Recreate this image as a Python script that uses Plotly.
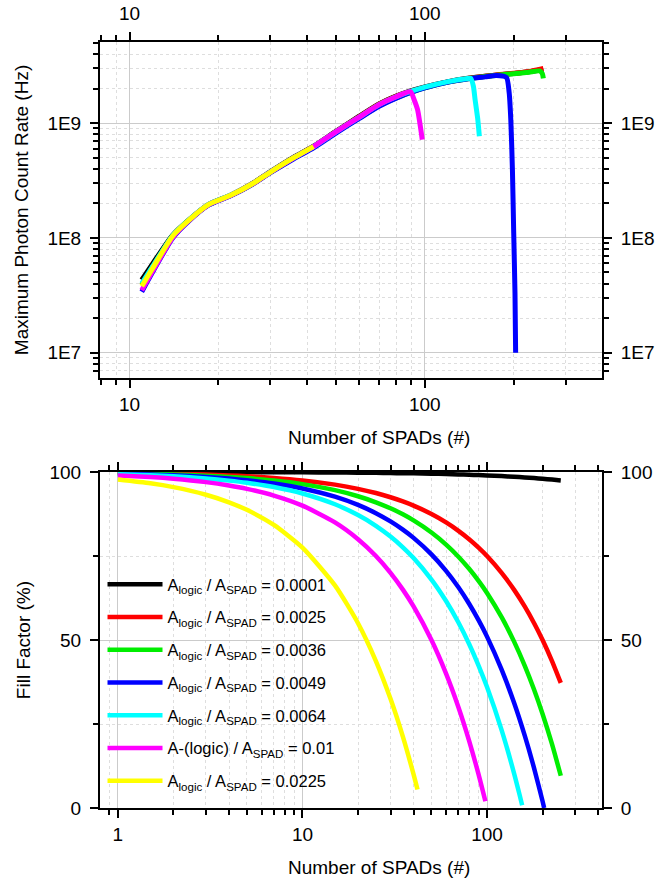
import plotly.graph_objects as go

FONT = "Liberation Sans, Arial, sans-serif"

# ---------------- data: top panel (max photon count rate vs number of SPADs) ----------------
names = ["A<sub>logic</sub> / A<sub>SPAD</sub> = 0.0001",
         "A<sub>logic</sub> / A<sub>SPAD</sub> = 0.0025",
         "A<sub>logic</sub> / A<sub>SPAD</sub> = 0.0036",
         "A<sub>logic</sub> / A<sub>SPAD</sub> = 0.0049",
         "A<sub>logic</sub> / A<sub>SPAD</sub> = 0.0064",
         "A-(logic) / A<sub>SPAD</sub> = 0.01",
         "A<sub>logic</sub> / A<sub>SPAD</sub> = 0.0225"]
colors = ["#000000", "#ff0000", "#00ee00", "#0000ff", "#00ffff", "#ff00ff", "#ffff00"]

rate_n_black = [11, 12, 14, 16, 18.5, 22, 26, 30, 36, 42, 50, 60, 70, 80, 90, 100, 120, 140, 160, 180, 200, 225, 252]
rate_black = [4.3e7, 6.0e7, 1.06e8, 1.46e8, 1.95e8, 2.36e8, 2.97e8, 3.78e8, 5.05e8, 6.3e8, 8.5e8, 1.15e9, 1.47e9, 1.72e9, 1.92e9, 2.07e9, 2.3e9, 2.46e9, 2.56e9, 2.64e9, 2.71e9, 2.8e9, 2.95e9]

rate_n_red = [11, 12, 14, 16, 18.5, 22, 26, 30, 36, 42, 50, 60, 70, 80, 90, 100, 120, 140, 160, 180, 200, 225, 252]
rate_red = [3.9e7, 5.6e7, 1.04e8, 1.45e8, 1.95e8, 2.35e8, 2.95e8, 3.75e8, 5.0e8, 6.25e8, 8.45e8, 1.14e9, 1.46e9, 1.71e9, 1.9e9, 2.05e9, 2.29e9, 2.45e9, 2.56e9, 2.65e9, 2.72e9, 2.82e9, 3.0e9]

rate_n_green = [11, 12, 14, 16, 18.5, 22, 26, 30, 36, 42, 50, 60, 70, 80, 90, 100, 120, 140, 160, 180, 200, 225, 245, 250, 252]
rate_green = [3.9e7, 5.6e7, 1.04e8, 1.45e8, 1.94e8, 2.34e8, 2.93e8, 3.72e8, 4.95e8, 6.2e8, 8.3e8, 1.11e9, 1.42e9, 1.66e9, 1.86e9, 2.03e9, 2.28e9, 2.44e9, 2.55e9, 2.63e9, 2.7e9, 2.78e9, 2.85e9, 2.7e9, 2.45e9]

rate_n_blue = [11, 12, 14, 16, 18.5, 22, 26, 30, 36, 42, 50, 60, 70, 80, 90, 100, 120, 140, 160, 175, 189, 193, 195.5, 198, 200, 202, 203]
rate_blue = [3.4e7, 5.1e7, 1.0e8, 1.43e8, 1.93e8, 2.33e8, 2.92e8, 3.7e8, 4.9e8, 6.1e8, 8.2e8, 1.1e9, 1.4e9, 1.65e9, 1.86e9, 2.03e9, 2.28e9, 2.43e9, 2.53e9, 2.6e9, 2.5e9, 1.85e9, 1.07e9, 3.9e8, 1.1e8, 3.3e7, 1.0e7]

rate_n_cyan = [11, 12, 14, 16, 18.5, 22, 26, 30, 36, 42, 50, 60, 70, 80, 90, 100, 120, 140, 143, 146, 148, 151, 153]
rate_cyan = [4.0e7, 5.7e7, 1.05e8, 1.46e8, 1.96e8, 2.36e8, 2.96e8, 3.76e8, 5.0e8, 6.25e8, 8.4e8, 1.13e9, 1.45e9, 1.7e9, 1.9e9, 2.06e9, 2.3e9, 2.45e9, 2.46e9, 2.1e9, 1.6e9, 1.1e9, 7.7e8]

rate_n_magenta = [11, 12, 14, 16, 18.5, 22, 26, 30, 36, 42, 50, 60, 70, 80, 89.5, 92, 94.5, 98]
rate_magenta = [3.5e7, 5.2e7, 1.01e8, 1.44e8, 1.94e8, 2.34e8, 2.94e8, 3.74e8, 4.98e8, 6.25e8, 8.4e8, 1.13e9, 1.45e9, 1.7e9, 1.88e9, 1.6e9, 1.31e9, 7.2e8]

rate_n_yellow = [11, 12, 14, 16, 18.5, 22, 26, 30, 36, 42]
rate_yellow = [3.8e7, 5.5e7, 1.04e8, 1.45e8, 1.95e8, 2.35e8, 2.95e8, 3.75e8, 5.0e8, 6.25e8]

# ---------------- data: bottom panel (fill factor vs number of SPADs) ----------------
ff_n_black = [1, 1.5, 2, 3, 4, 5, 7, 10, 15, 20, 25, 30, 35, 40, 50, 60, 70, 80, 90, 100, 120, 140, 160, 180, 200, 225, 251]
ff_black = [99.99, 99.985, 99.98, 99.97, 99.96, 99.95, 99.93, 99.9, 99.85, 99.8, 99.75, 99.7, 99.65, 99.6, 99.5, 99.4, 99.3, 99.2, 99.1, 99.0, 98.8, 98.6, 98.4, 98.2, 98.0, 97.75, 97.5]

ff_n_red = [1, 1.5, 2, 3, 4, 5, 7, 10, 15, 20, 25, 30, 35, 40, 50, 60, 70, 80, 90, 100, 120, 140, 160, 180, 200, 225, 251]
ff_red = [99.75, 99.6, 99.5, 99.25, 99.0, 98.75, 98.25, 97.5, 96.25, 95.0, 93.75, 92.5, 91.25, 90.0, 87.5, 85.0, 82.5, 80.0, 77.5, 75.0, 70.0, 65.0, 60.0, 55.0, 50.0, 43.75, 37.25]

ff_n_green = [1, 1.5, 2, 3, 4, 5, 7, 10, 15, 20, 25, 30, 35, 40, 50, 60, 70, 80, 90, 100, 120, 140, 160, 180, 200, 225, 251]
ff_green = [99.64, 99.46, 99.28, 98.92, 98.56, 98.2, 97.48, 96.4, 94.6, 92.8, 91.0, 89.2, 87.4, 85.6, 82.0, 78.4, 74.8, 71.2, 67.6, 64.0, 56.8, 49.6, 42.4, 35.2, 28.0, 19.0, 9.6]

ff_n_blue = [1, 1.5, 2, 3, 4, 5, 7, 10, 15, 20, 25, 30, 35, 40, 50, 60, 70, 80, 90, 100, 120, 140, 160, 180, 200, 204]
ff_blue = [99.51, 99.27, 99.02, 98.53, 98.04, 97.55, 96.57, 95.1, 92.65, 90.2, 87.75, 85.3, 82.85, 80.4, 75.5, 70.6, 65.7, 60.8, 55.9, 51.0, 41.2, 31.4, 21.6, 11.8, 2.0, 0.0]

ff_n_cyan = [1, 1.5, 2, 3, 4, 5, 7, 10, 15, 20, 25, 30, 35, 40, 50, 60, 70, 80, 90, 100, 120, 140, 150, 155]
ff_cyan = [99.36, 99.04, 98.72, 98.08, 97.44, 96.8, 95.52, 93.6, 90.4, 87.2, 84.0, 80.8, 77.6, 74.4, 68.0, 61.6, 55.2, 48.8, 42.4, 36.0, 23.2, 10.4, 4.0, 0.8]

ff_n_magenta = [1, 1.5, 2, 3, 4, 5, 7, 10, 15, 20, 25, 30, 35, 40, 50, 60, 70, 80, 90, 98]
ff_magenta = [99.0, 98.5, 98.0, 97.0, 96.0, 95.0, 93.0, 90.0, 85.0, 80.0, 75.0, 70.0, 65.0, 60.0, 50.0, 40.0, 30.0, 20.0, 10.0, 2.0]

ff_n_yellow = [1, 1.5, 2, 3, 4, 5, 7, 10, 15, 20, 25, 30, 35, 40, 42]
ff_yellow = [97.75, 96.63, 95.5, 93.25, 91.0, 88.75, 84.25, 77.5, 66.25, 55.0, 43.75, 32.5, 21.25, 10.0, 5.5]

# tick labels
top_x_ticks = [10, 100]
top_x_ticktext = ["10", "100"]
top_y_ticks = [1e7, 1e8, 1e9]
top_y_ticktext = ["1E7", "1E8", "1E9"]
bot_x_ticks = [1, 10, 100]
bot_x_ticktext = ["1", "10", "100"]
bot_y_ticks = [0, 50, 100]
bot_y_ticktext = ["0", "50", "100"]

rate_x = [rate_n_black, rate_n_red, rate_n_green, rate_n_blue, rate_n_cyan, rate_n_magenta, rate_n_yellow]
rate_y = [rate_black, rate_red, rate_green, rate_blue, rate_cyan, rate_magenta, rate_yellow]
ff_x = [ff_n_black, ff_n_red, ff_n_green, ff_n_blue, ff_n_cyan, ff_n_magenta, ff_n_yellow]
ff_y = [ff_black, ff_red, ff_green, ff_blue, ff_cyan, ff_magenta, ff_yellow]

fig = go.Figure()
# first four series on the base axes, last three on the mirrored (top/right) axes,
# which share identical ranges, so every axis carries data and drawing order is kept
for i in range(7):
    xa, ya = ("x", "y") if i < 4 else ("x3", "y3")
    fig.add_trace(go.Scatter(x=rate_x[i], y=rate_y[i], mode="lines",
                             line=dict(color=colors[i], width=5, shape="spline", smoothing=0.6),
                             xaxis=xa, yaxis=ya, showlegend=False, hoverinfo="skip"))
for i in range(7):
    xa, ya = ("x2", "y2") if i < 4 else ("x4", "y4")
    fig.add_trace(go.Scatter(x=ff_x[i], y=ff_y[i], mode="lines", name=names[i],
                             legendgroup="g%d" % i,
                             line=dict(color=colors[i], width=4.5, shape="spline", smoothing=0.6),
                             xaxis=xa, yaxis=ya, hoverinfo="skip"))

GRID = "#cbcbcb"
MGRID = "#dedede"
FS = 19
tickfont = dict(family=FONT, size=FS, color="black")
titlefont = dict(family=FONT, size=FS, color="black")

minor_top_x = [8, 9, 20, 30, 40, 50, 60, 70, 80, 90, 200, 300]
minor_top_y = [6e6, 7e6, 8e6, 9e6, 2e7, 3e7, 4e7, 5e7, 6e7, 7e7, 8e7, 9e7,
               2e8, 3e8, 4e8, 5e8, 6e8, 7e8, 8e8, 9e8, 2e9, 3e9, 4e9, 5e9]
minor_bot_x = [0.9, 2, 3, 4, 5, 6, 7, 8, 9, 20, 30, 40, 50, 60, 70, 80, 90, 200, 300, 400]
minor_bot_y = [25, 75]


def ax_common(grid=True):
    return dict(showline=True, linewidth=2, linecolor="black", ticks="outside",
                ticklen=8, tickwidth=2, tickcolor="black", zeroline=False,
                showgrid=grid, gridcolor=GRID, gridwidth=1.2, tickfont=tickfont,
                automargin=False)


def minor(vals, grid=True):
    return dict(tickmode="array", tickvals=vals, ticks="outside", ticklen=5, tickwidth=2,
                tickcolor="black", showgrid=grid, gridcolor=MGRID, gridwidth=1, griddash="dot")

W, H = 671, 882
top_dom = [0.5614, 1.0]
bot_dom = [0.0, 0.4386]
xr_top = [0.9, 2.6]
yr_top = [6.78, 9.707]
xr_bot = [-0.0969, 2.623]
yr_bot = [0, 100]

x_title = "Number of SPADs (#)"

fig.update_layout(
    width=W, height=H,
    margin=dict(l=100, r=69, t=42, b=74, autoexpand=False),
    paper_bgcolor="white", plot_bgcolor="white",
    font=dict(family=FONT, size=FS, color="black"),
    xaxis=dict(type="log", range=xr_top, domain=[0, 1], anchor="y", side="bottom",
               tickmode="array", tickvals=top_x_ticks, ticktext=top_x_ticktext,
               minor=minor(minor_top_x), **ax_common()),
    xaxis3=dict(type="log", range=xr_top, overlaying="x", anchor="y", side="top",
                tickmode="array", tickvals=top_x_ticks, ticktext=top_x_ticktext,
                minor=minor(minor_top_x, False), ticklabelstandoff=4, **ax_common(False)),
    yaxis=dict(type="log", range=yr_top, domain=top_dom, anchor="x",
               tickmode="array", tickvals=top_y_ticks, ticktext=top_y_ticktext,
               minor=minor(minor_top_y), ticklabelstandoff=5,
               title=dict(text="Maximum Photon Count Rate (Hz)", font=titlefont, standoff=14),
               **ax_common()),
    yaxis3=dict(type="log", range=yr_top, overlaying="y", anchor="x", side="right",
                tickmode="array", tickvals=top_y_ticks, ticktext=top_y_ticktext,
                minor=minor(minor_top_y, False), ticklabelstandoff=5, **ax_common(False)),
    xaxis2=dict(type="log", range=xr_bot, domain=[0, 1], anchor="y2", side="bottom",
                tickmode="array", tickvals=bot_x_ticks, ticktext=bot_x_ticktext,
                minor=minor(minor_bot_x), **ax_common()),
    xaxis4=dict(type="log", range=xr_bot, overlaying="x2", anchor="y2", side="top",
                tickmode="array", tickvals=bot_x_ticks, showticklabels=False,
                minor=minor(minor_bot_x, False), **ax_common(False)),
    yaxis2=dict(range=yr_bot, domain=bot_dom, anchor="x2",
                tickmode="array", tickvals=bot_y_ticks, ticktext=bot_y_ticktext,
                minor=minor(minor_bot_y), ticklabelstandoff=5,
                title=dict(text="Fill Factor (%)", font=titlefont, standoff=14),
                **ax_common()),
    yaxis4=dict(range=yr_bot, overlaying="y2", anchor="x2", side="right",
                tickmode="array", tickvals=bot_y_ticks, ticktext=bot_y_ticktext,
                minor=minor(minor_bot_y, False), ticklabelstandoff=5, **ax_common(False)),
    legend=dict(x=0.005, y=0.3146, xanchor="left", yanchor="top",
                bgcolor="rgba(0,0,0,0)", borderwidth=0,
                font=dict(family=FONT, size=16.5, color="black"),
                itemwidth=55, tracegroupgap=8.3, traceorder="grouped"),
    annotations=[
        dict(text=x_title, xref="paper", yref="paper", x=0.556, y=0.4843,
             xanchor="center", yanchor="middle", showarrow=False, font=titlefont),
        dict(text=x_title, xref="paper", yref="paper", x=0.556, y=-0.0783,
             xanchor="center", yanchor="middle", showarrow=False, font=titlefont),
    ],
)

# remove the browser's default 8px page margin so the figure fills the window
fig.write_html("out.html", config={"displayModeBar": False},
               post_script="document.body.style.margin='0';")
